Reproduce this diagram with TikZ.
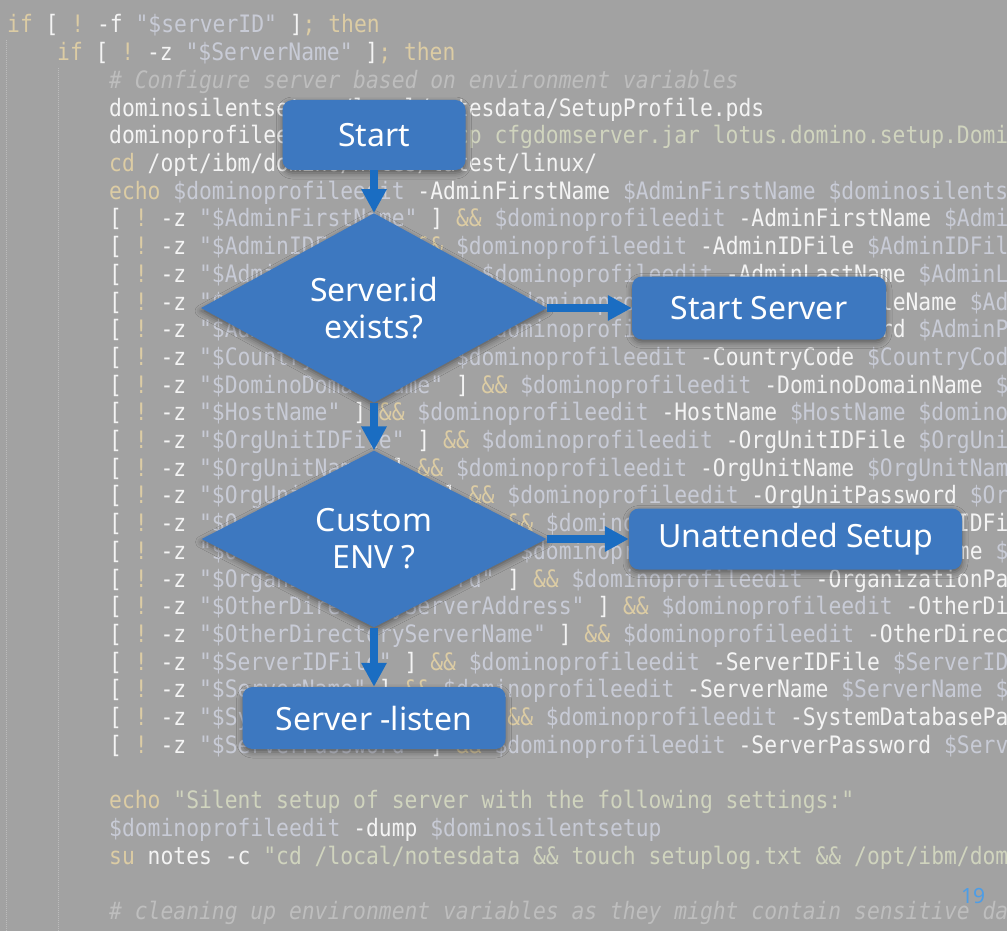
\documentclass[tikz,border=0pt]{standalone}
\usepackage{fontspec}
\usepackage{xcolor}
\usetikzlibrary{shapes.geometric,arrows.meta,shadows.blur}

\newfontfamily\codefam[FakeStretch=0.889]{DejaVu Sans Mono}
\newfontfamily\labelfam{Noto Sans}
\newcommand\codetype{\codefam\fontsize{24}{24}\selectfont\frenchspacing}
\newcommand\flowtype{\labelfam\fontsize{32}{37}\selectfont}

\definecolor{codebg}{RGB}{162,162,162}
\definecolor{codefg}{RGB}{244,244,244}
\definecolor{codekw}{RGB}{220,204,164}
\definecolor{codevar}{RGB}{200,203,214}
\definecolor{codestr}{RGB}{208,212,190}
\definecolor{codecmt}{RGB}{190,190,190}
\definecolor{codeguide}{RGB}{188,188,188}
\definecolor{flowblue}{RGB}{61,120,192}
\definecolor{arrowblue}{RGB}{26,109,194}
\definecolor{pageblue}{RGB}{77,157,230}

\newcommand\ckw[1]{\textcolor{codekw}{#1}}
\newcommand\cvar[1]{\textcolor{codevar}{#1}}
\newcommand\cstr[1]{\textcolor{codestr}{#1}}
\newcommand\ccmt[1]{\textcolor{codecmt}{\itshape #1}}
\newcommand\chkline[1]{[ \ckw{!} -z \cvar{"\$#1"} ] \ckw{\&\&} \cvar{\$dominoprofileedit} -#1 \cvar{\$#1 \$dominosilentsetup}}

\tikzset{
  code/.style={anchor=base west, inner sep=0pt, text=codefg, font=\codetype},
  guide/.style={draw=codeguide, densely dotted, line width=1pt},
  flowbox/.style={rectangle, rounded corners=10pt, fill=flowblue, text=white,
    font=\flowtype, inner sep=0pt,
    blur shadow={shadow xshift=0pt, shadow yshift=-3pt, shadow blur radius=6pt, shadow opacity=45}},
  decision/.style={diamond, fill=flowblue, text=white, font=\flowtype,
    align=center, inner sep=0pt,
    blur shadow={shadow xshift=0pt, shadow yshift=-3pt, shadow blur radius=6pt, shadow opacity=45}},
  flowarrow/.style={draw=arrowblue, line width=8pt, -{Triangle[width=24pt,length=24pt]}},
}

\begin{document}
\begin{tikzpicture}[x=1pt, y=-1pt]
  % background
  \fill[codebg] (0,0) rectangle (1007,931);
  \useasboundingbox (0,0) rectangle (1007,931);
  \draw[guide] (6,40) -- (6,931);
  \draw[guide] (58,68) -- (58,931);

  % code lines
  \node[code] (l1) at (7,33) {\ckw{if} [ \ckw{!} -f \cvar{"\$serverID"} ]\ckw{; then}};
  \node[code] (l2) at (57,60.7) {\ckw{if} [ \ckw{!} -z \cvar{"\$ServerName"} ]\ckw{; then}};
  \node[code] (l3) at (109,88.4) {\ccmt{\# Configure server based on environment variables}};
  \node[code] (l4) at (109,116.1) {dominosilentsetup=/local/notesdata/SetupProfile.pds};
  \node[code] (l5) at (109,143.8) {dominoprofileedit=\cstr{"./java -cp cfgdomserver.jar lotus.domino.setup.DominoServerProfileEdit"}};
  \node[code] (l6) at (109,171.5) {\ckw{cd} /opt/ibm/domino/notes/latest/linux/};
  \node[code] (l7) at (109,199.2) {\ckw{echo} \cvar{\$dominoprofileedit} -AdminFirstName \cvar{\$AdminFirstName \$dominosilentsetup}};
  \foreach \nm [count=\i from 8] in {AdminFirstName, AdminIDFile, AdminLastName,
      AdminMiddleName, AdminPassword, CountryCode, DominoDomainName, HostName,
      OrgUnitIDFile, OrgUnitName, OrgUnitPassword, OrganizationIDFile,
      OrganizationName, OrganizationPassword, OtherDirectoryServerAddress,
      OtherDirectoryServerName, ServerIDFile, ServerName, SystemDatabasePath,
      ServerPassword}
    \node[code] (l\i) at (109,{33+(\i-1)*27.7}) {\chkline{\nm}};
  \node[code] (l29) at (109,808.6) {\ckw{echo} \cstr{"Silent setup of server with the following settings:"}};
  \node[code] (l30) at (109,836.3) {\cvar{\$dominoprofileedit} -dump \cvar{\$dominosilentsetup}};
  \node[code] (l31) at (109,864) {\ckw{su} notes -c \cstr{"cd /local/notesdata \&\& touch setuplog.txt \&\& /opt/ibm/domino/bin/server"}};
  \node[code] (l33) at (109,919.4) {\ccmt{\# cleaning up environment variables as they might contain sensitive data}};

  % flow chart
  \node[flowbox, minimum width=183pt, minimum height=70pt] (start) at (374,135) {Start};
  \node[decision, minimum width=346pt, minimum height=176pt] (exists) at (374,308) {Server.id\\exists?};
  \node[flowbox, minimum width=254pt, minimum height=63pt] (startsrv) at (759,308) {Start Server};
  \node[decision, minimum width=345pt, minimum height=175pt] (customenv) at (374,539) {Custom\\ENV ?};
  \node[flowbox, minimum width=333pt, minimum height=61pt] (unattended) at (795.5,539) {Unattended Setup};
  \node[flowbox, minimum width=263pt, minimum height=62pt] (listen) at (374,718) {Server -listen};

  \draw[flowarrow] (start) -- (exists);
  \draw[flowarrow] (exists) -- (startsrv);
  \draw[flowarrow] (exists) -- (customenv);
  \draw[flowarrow] (customenv) -- (unattended);
  \draw[flowarrow] (customenv) -- (listen);

  \node[text=pageblue, font=\labelfam\fontsize{21}{21}\selectfont, anchor=base west, inner sep=0pt] (page) at (961,903) {19};
\end{tikzpicture}
\end{document}
